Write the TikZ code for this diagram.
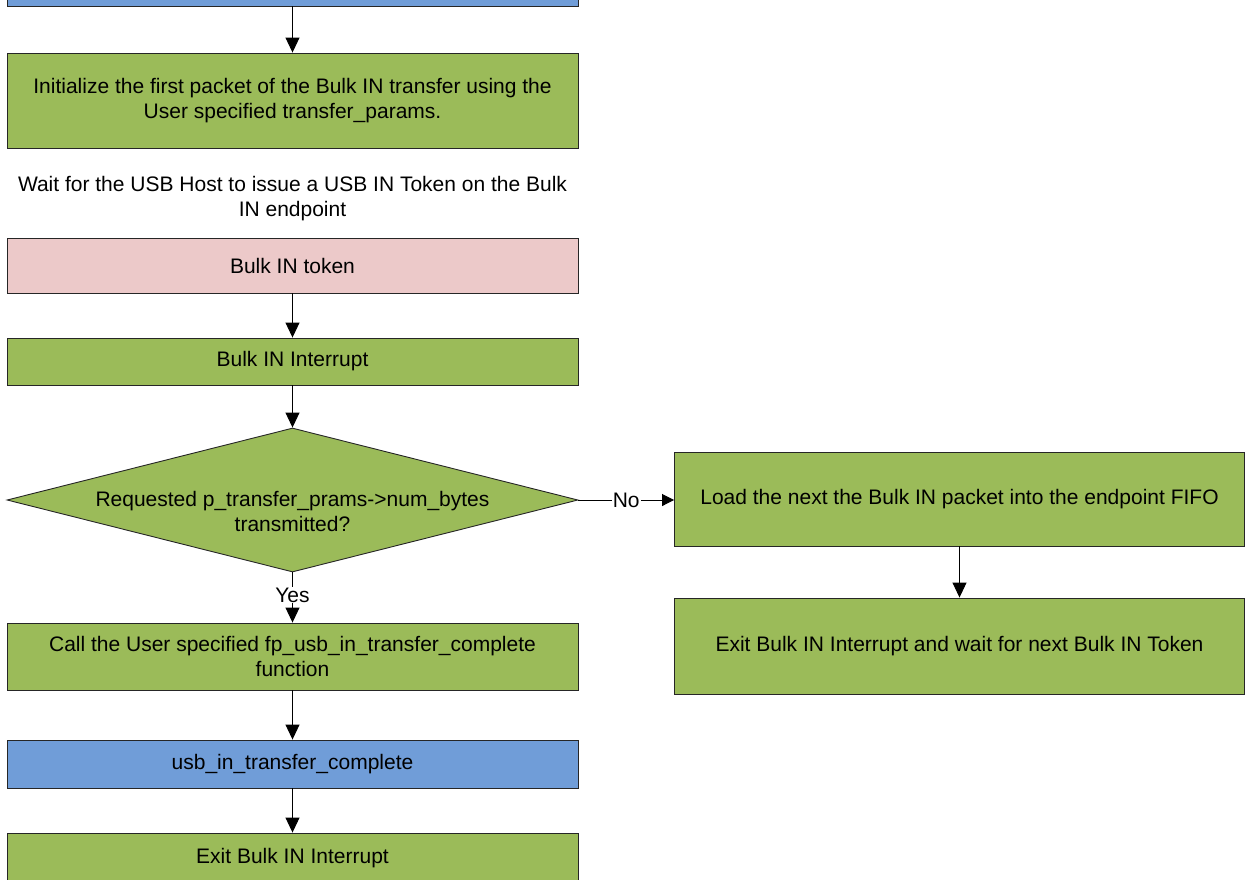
\documentclass[tikz,border=0pt]{standalone}
\usepackage{fontspec}
\setmainfont{Liberation Sans}
\usetikzlibrary{shapes.geometric,arrows.meta}
\definecolor{boxgreen}{RGB}{155,187,89}
\definecolor{boxblue}{RGB}{112,157,216}
\definecolor{boxpink}{RGB}{236,201,201}
\tikzset{
  every node/.style={font=\fontsize{21}{25}\selectfont, align=center},
  box/.style={draw=black!85, line width=0.9pt, rectangle, minimum width=571pt, inner sep=0pt},
  gbox/.style={box, fill=boxgreen},
  bbox/.style={box, fill=boxblue},
  pbox/.style={box, fill=boxpink},
  dia/.style={draw=black!85, line width=0.9pt, diamond, fill=boxgreen, minimum width=571pt, minimum height=144pt, inner sep=0pt},
  arr/.style={draw=black, line width=0.9pt, -{Triangle[length=15pt,width=14pt]}},
  sarr/.style={draw=black, line width=0.9pt, -{Triangle[length=12pt,width=12pt]}},
  lbl/.style={fill=white, inner sep=1pt}
}
\begin{document}
\begin{tikzpicture}[x=1pt,y=-1pt]
\useasboundingbox (0,0) rectangle (1245,879);
\node[bbox, minimum height=60pt] (top) at (292.5,-24) {};
\node[gbox, minimum height=95pt] (init) at (292.5,100.5) {Initialize the first packet of the Bulk IN transfer using the\\User specified transfer\_params.};
\node (wait) at (292.5,199) {Wait for the USB Host to issue a USB IN Token on the Bulk\\IN endpoint};
\node[pbox, minimum height=55pt] (token) at (292.5,265.5) {Bulk IN token};
\node[gbox, minimum height=47pt] (irq) at (292.5,361.5) {Bulk IN Interrupt};
\node[dia] (dec) at (292.5,500) {};
\node (dectext) at (292.5,511) {Requested p\_transfer\_prams->num\_bytes\\transmitted?};
\node[gbox, minimum height=67pt] (call) at (292.5,656.5) {Call the User specified fp\_usb\_in\_transfer\_complete\\function};
\node[bbox, minimum height=48pt] (done) at (292.5,764) {usb\_in\_transfer\_complete};
\node[gbox, minimum height=60pt] (exit) at (292.5,863) {};
\node at (292.5,858) {Exit Bulk IN Interrupt};
\node[gbox, minimum width=570pt, minimum height=94pt] (load) at (959.5,499) {Load the next the Bulk IN packet into the endpoint FIFO};
\node[gbox, minimum width=570pt, minimum height=96pt] (exit2) at (959.5,646) {Exit Bulk IN Interrupt and wait for next Bulk IN Token};
\draw[arr] (top) -- (init);
\draw[arr] (token) -- (irq);
\draw[arr] (irq) -- (dec.north);
\draw[arr] (dec.south) -- node[lbl, pos=0.45] {Yes} (call);
\draw[arr] (call) -- (done);
\draw[arr] (done) -- (exit);
\draw[sarr] (dec.east) -- node[lbl, pos=0.5] {No} (dec.east -| load.west);
\draw[arr] (load) -- (exit2);
\end{tikzpicture}
\end{document}
